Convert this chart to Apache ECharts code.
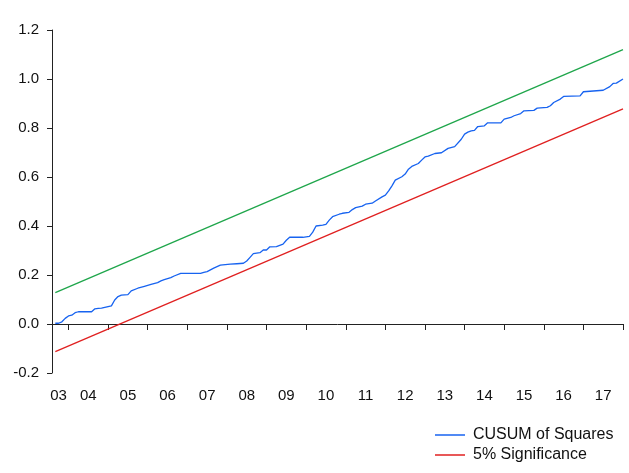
<!DOCTYPE html>
<html>
<head>
<meta charset="utf-8">
<script src="https://cdn.jsdelivr.net/npm/echarts@6/dist/echarts.min.js"></script>
<style>
html,body{margin:0;padding:0;background:#fff;}
#chart{width:629px;height:473px;}
</style>
</head>
<body>
<div id="chart"></div>
<script>
// Category range (monthly): Aug 2003 .. Jan 2018
var firstYear = 2003, firstMonth = 8, monthCount = 174;

// CUSUM of Squares (month, value)
var cusumMonths = ['2003-09','2003-10','2003-11','2003-12','2004-01','2004-02','2004-03','2004-04','2004-08','2004-09','2004-10','2004-11','2005-01','2005-02','2005-03','2005-04','2005-05','2005-07','2005-08','2005-10','2005-12','2006-02','2006-04','2006-05','2006-06','2006-08','2006-09','2006-11','2007-05','2007-06','2007-07','2007-09','2007-10','2007-11','2008-02','2008-04','2008-06','2008-07','2008-08','2008-09','2008-11','2008-12','2009-01','2009-02','2009-04','2009-06','2009-07','2009-08','2009-12','2010-02','2010-03','2010-04','2010-06','2010-07','2010-08','2010-09','2010-11','2010-12','2011-02','2011-03','2011-04','2011-06','2011-07','2011-09','2011-10','2011-12','2012-01','2012-02','2012-03','2012-04','2012-06','2012-07','2012-08','2012-09','2012-11','2012-12','2013-01','2013-02','2013-04','2013-06','2013-08','2013-10','2013-12','2014-01','2014-02','2014-03','2014-04','2014-05','2014-07','2014-08','2014-12','2015-01','2015-03','2015-04','2015-06','2015-07','2015-10','2015-11','2016-02','2016-03','2016-04','2016-06','2016-07','2016-12','2017-01','2017-05','2017-07','2017-09','2017-10','2017-11','2018-01'];
var cusumValues = [0.003,0.003,0.009,0.023,0.033,0.036,0.046,0.050,0.050,0.062,0.064,0.065,0.071,0.074,0.098,0.112,0.118,0.120,0.135,0.146,0.154,0.162,0.169,0.176,0.181,0.189,0.196,0.207,0.207,0.211,0.214,0.228,0.234,0.240,0.244,0.246,0.248,0.257,0.272,0.287,0.291,0.302,0.302,0.315,0.316,0.326,0.342,0.354,0.354,0.358,0.375,0.400,0.404,0.407,0.424,0.438,0.448,0.452,0.456,0.467,0.475,0.481,0.489,0.493,0.502,0.519,0.526,0.543,0.564,0.587,0.601,0.612,0.632,0.643,0.655,0.669,0.682,0.685,0.696,0.699,0.717,0.724,0.754,0.775,0.783,0.788,0.790,0.806,0.809,0.821,0.821,0.836,0.843,0.850,0.859,0.870,0.872,0.881,0.884,0.891,0.904,0.918,0.929,0.931,0.948,0.952,0.954,0.969,0.982,0.983,1.000];

// 5% significance bounds (straight lines: start and end values)
var boundMonths = ['2003-09','2018-01'];
var upperValues = [0.128, 1.120];
var lowerValues = [-0.113, 0.878];

// x tick labels and where they sit
var yearLabels = ['03','04','05','06','07','08','09','10','11','12','13','14','15','16','17'];
var labelMonths = ['2003-10','2004-07','2005-07','2006-07','2007-07','2008-07','2009-07','2010-07','2011-07','2012-07','2013-07','2014-07','2015-07','2016-07','2017-07'];

function pad(n){return n<10?'0'+n:''+n;}
var categories = [];
for (var k=0;k<monthCount;k++){
  var t = firstMonth-1+k;
  categories.push((firstYear+Math.floor(t/12))+'-'+pad(t%12+1));
}
var labelMap = {};
labelMonths.forEach(function(m,i){labelMap[m]=yearLabels[i];});
function pairs(xs, ys){return xs.map(function(x,i){return [x, ys[i]];});}

var font = '"Liberation Sans", Arial, sans-serif';
var axisColor = '#222';

var chart = echarts.init(document.getElementById('chart'), null, {renderer:'canvas'});
chart.setOption({
  animation:false,
  backgroundColor:'#fff',
  grid:{left:52, right:6, top:30, bottom:100, containLabel:false},
  xAxis:{
    type:'category',
    data:categories,
    boundaryGap:false,
    axisLine:{lineStyle:{color:axisColor, width:1}},
    axisTick:{
      show:true, inside:false, length:6,
      lineStyle:{color:axisColor},
      interval:function(idx, val){ return val.slice(5)==='01'; }
    },
    axisLabel:{
      interval:function(idx, val){ return labelMap.hasOwnProperty(val); },
      formatter:function(val){ return labelMap[val] || ''; },
      color:'#111', fontFamily:font, fontSize:15, margin:15
    },
    splitLine:{show:false}
  },
  yAxis:{
    type:'value',
    min:-0.2, max:1.2, interval:0.2,
    axisLine:{show:true, lineStyle:{color:axisColor, width:1}},
    axisTick:{show:true, inside:false, length:5, lineStyle:{color:axisColor}},
    axisLabel:{
      formatter:function(v){ return v.toFixed(1); },
      color:'#111', fontFamily:font, fontSize:15, margin:13
    },
    splitLine:{show:false}
  },
  legend:{
    data:['CUSUM of Squares','5% Significance'],
    orient:'vertical',
    left:430, top:421,
    icon:'rect',
    itemWidth:30, itemHeight:1.5,
    itemGap:2,
    textStyle:{color:'#111', fontFamily:font, fontSize:16, lineHeight:18, padding:[0,0,0,3]}
  },
  series:[
    {
      name:'upper', type:'line', data:pairs(boundMonths, upperValues),
      showSymbol:false, lineStyle:{color:'#1fa64b', width:1.3}, itemStyle:{color:'#1fa64b'}
    },
    {
      name:'5% Significance', type:'line', data:pairs(boundMonths, lowerValues),
      showSymbol:false, lineStyle:{color:'#e02020', width:1.3}, itemStyle:{color:'#e02020'}
    },
    {
      name:'CUSUM of Squares', type:'line', data:pairs(cusumMonths, cusumValues),
      showSymbol:false, lineStyle:{color:'#1763f0', width:1.3}, itemStyle:{color:'#1763f0'}
    }
  ]
});
</script>
</body>
</html>
